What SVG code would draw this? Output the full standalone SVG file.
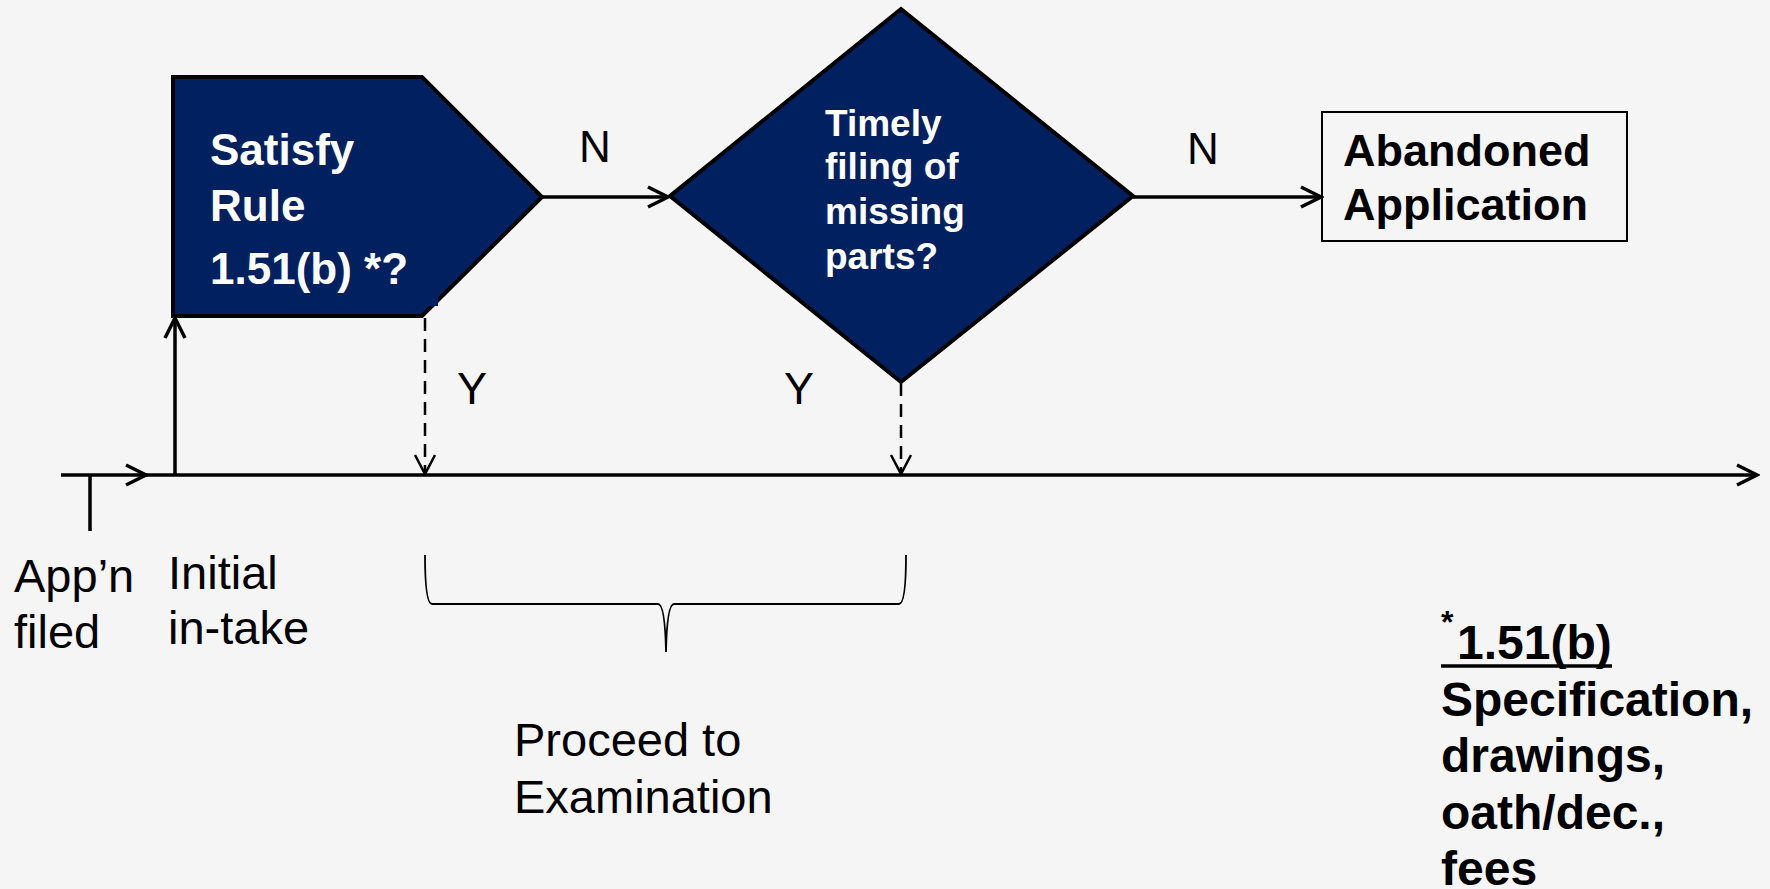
<svg xmlns="http://www.w3.org/2000/svg" width="1770" height="889" viewBox="0 0 1770 889">
<defs>
<style>
.bg{fill:#f5f5f5}
.shape{fill:#002060;stroke:#000;stroke-width:4;stroke-linejoin:miter}
.wt{font-family:"Liberation Sans",Arial,sans-serif;font-weight:bold;fill:#fff}
.bt{font-family:"Liberation Sans",Arial,sans-serif;font-weight:bold;fill:#000}
.rt{font-family:"Liberation Sans",Arial,sans-serif;fill:#000}
.ln{stroke:#000;stroke-width:3.5;fill:none}
.dash{stroke:#000;stroke-width:2.5;fill:none;stroke-dasharray:13,8}
</style>
<marker id="arr" markerUnits="userSpaceOnUse" markerWidth="26" markerHeight="26" viewBox="0 0 26 26" refX="23" refY="13" orient="auto">
<path d="M3,3 L23,13 L3,23" fill="none" stroke="#000" stroke-width="3.5"/>
</marker>
<marker id="arrs" markerUnits="userSpaceOnUse" markerWidth="26" markerHeight="26" viewBox="0 0 26 26" refX="23" refY="13" orient="auto">
<path d="M4,3 L23,13 L4,23" fill="none" stroke="#000" stroke-width="2.5"/>
</marker>
</defs>
<rect class="bg" x="0" y="0" width="1770" height="889"/>

<g id="connectors">
<line class="ln" x1="61" y1="475" x2="146" y2="475" marker-end="url(#arr)"/>
<line class="ln" x1="146" y1="475" x2="1757" y2="475" marker-end="url(#arr)"/>
<line class="ln" x1="90" y1="475" x2="90" y2="531"/>
<line class="ln" x1="175" y1="475" x2="175" y2="318" marker-end="url(#arr)"/>
<line class="ln" x1="542" y1="197" x2="668" y2="197" marker-end="url(#arr)"/>
<line class="ln" x1="1133" y1="197" x2="1321" y2="197" marker-end="url(#arr)"/>
<line class="dash" x1="425" y1="318" x2="425" y2="474" marker-end="url(#arrs)"/>
<line class="dash" x1="901" y1="383" x2="901" y2="474" marker-end="url(#arrs)"/>
<path d="M425,555 Q425,604 432,604 L658,604 Q665,604 666,652 Q667,604 674,604 L899,604 Q906,604 906,555" fill="none" stroke="#000" stroke-width="1.8"/>
</g>

<g id="satisfy">
<path class="shape" d="M173,77 L422,77 L542,197 L422,316 L173,316 Z"/>
<rect x="427" y="293" width="11" height="13" fill="#002060"/>
<text class="wt" font-size="44" x="210" y="165">Satisfy</text>
<text class="wt" font-size="44" x="210" y="221">Rule</text>
<text class="wt" font-size="44" x="210" y="284">1.51(b) *?</text>
</g>

<g id="timely">
<path class="shape" d="M901,9 L1133,196 L901,382 L670,196 Z"/>
<text class="wt" font-size="37" x="825" y="136">Timely</text>
<text class="wt" font-size="37" x="825" y="179">filing of</text>
<text class="wt" font-size="37" x="825" y="224">missing</text>
<text class="wt" font-size="37" x="825" y="269">parts?</text>
</g>

<g id="abandoned">
<rect x="1322" y="112" width="305" height="129" fill="none" stroke="#000" stroke-width="2"/>
<text class="bt" font-size="45" x="1343" y="166">Abandoned</text>
<text class="bt" font-size="45" x="1343" y="220">Application</text>
</g>

<g id="labels">
<text class="rt" font-size="44" x="579" y="162">N</text>
<text class="rt" font-size="44" x="1187" y="164">N</text>
<text class="rt" font-size="45" x="457" y="404">Y</text>
<text class="rt" font-size="45" x="784" y="404">Y</text>
<text class="rt" font-size="47" x="14" y="592">App’n</text>
<text class="rt" font-size="47" x="14" y="648">filed</text>
<text class="rt" font-size="47" x="168" y="589">Initial</text>
<text class="rt" font-size="47" x="168" y="644">in-take</text>
<text class="rt" font-size="47" x="514" y="756">Proceed to</text>
<text class="rt" font-size="47" x="514" y="813">Examination</text>
</g>

<g id="footnote">
<text class="bt" font-size="32" x="1441" y="633">*</text>
<text class="bt" font-size="48" x="1457" y="659">1.51(b)</text>
<line x1="1441" y1="666" x2="1612" y2="666" stroke="#000" stroke-width="3.5"/>
<text class="bt" font-size="48" x="1441" y="716">Specification,</text>
<text class="bt" font-size="48" x="1441" y="772">drawings,</text>
<text class="bt" font-size="48" x="1441" y="829">oath/dec.,</text>
<text class="bt" font-size="48" x="1441" y="885">fees</text>
</g>
</svg>
